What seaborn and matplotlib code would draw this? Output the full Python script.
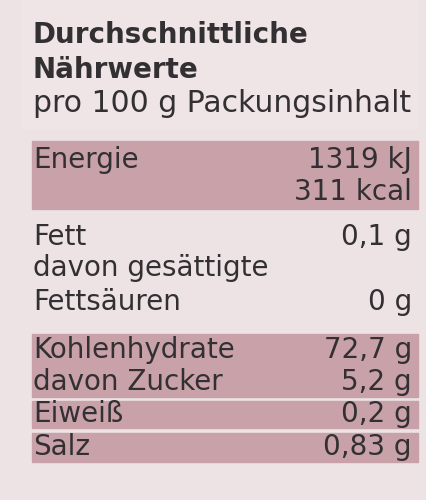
import matplotlib
matplotlib.use("Agg")
import matplotlib.pyplot as plt
import seaborn as sns

sns.set_theme(style="white")
plt.rcParams['font.family'] = ['DejaVu Sans']

title_lines = ["Durchschnittliche", "Nährwerte"]
subtitle = "pro 100 g Packungsinhalt"
labels = ["Energie", "", "Fett", "davon gesättigte", "Fettsäuren", "Kohlenhydrate", "davon Zucker", "Eiweiß", "Salz"]
values = ["1319 kJ", "311 kcal", "0,1 g", "", "0 g", "72,7 g", "5,2 g", "0,2 g", "0,83 g"]
row_y = [160, 192, 237, 268, 302, 350, 382, 414, 447]
shaded_bands = [(140, 210), (333, 398), (400, 429), (432, 463)]

fig = plt.figure(figsize=(4.27, 5.0), dpi=100)
fig.patch.set_facecolor("#ede3e5")
ax = fig.add_axes([0, 0, 1, 1])
ax.set_xlim(0, 427)
ax.set_ylim(500, 0)
ax.axis("off")
ax.set_facecolor("#ede3e5")
ax.axhspan(0, 128, xmin=0.05, xmax=0.98, color="#efe4e6", zorder=0)
for a, b in shaded_bands:
    ax.axhspan(a + 1, b - 1, xmin=32 / 427, xmax=418 / 427, color="#c8a1a9", zorder=1)

color = "#333033"
fs = 20
for i, t in enumerate(title_lines):
    ax.text(33, 35 + 35 * i, t, fontsize=fs, fontweight="bold", color=color, va="center", ha="left")
ax.text(33, 104, subtitle, fontsize=21.5, color=color, va="center", ha="left")
for lab, val, y in zip(labels, values, row_y):
    ax.text(33, y, lab, fontsize=fs, color=color, va="center", ha="left")
    ax.text(412, y, val, fontsize=fs, color=color, va="center", ha="right")

fig.savefig("out.png", dpi=100, facecolor=fig.get_facecolor())
